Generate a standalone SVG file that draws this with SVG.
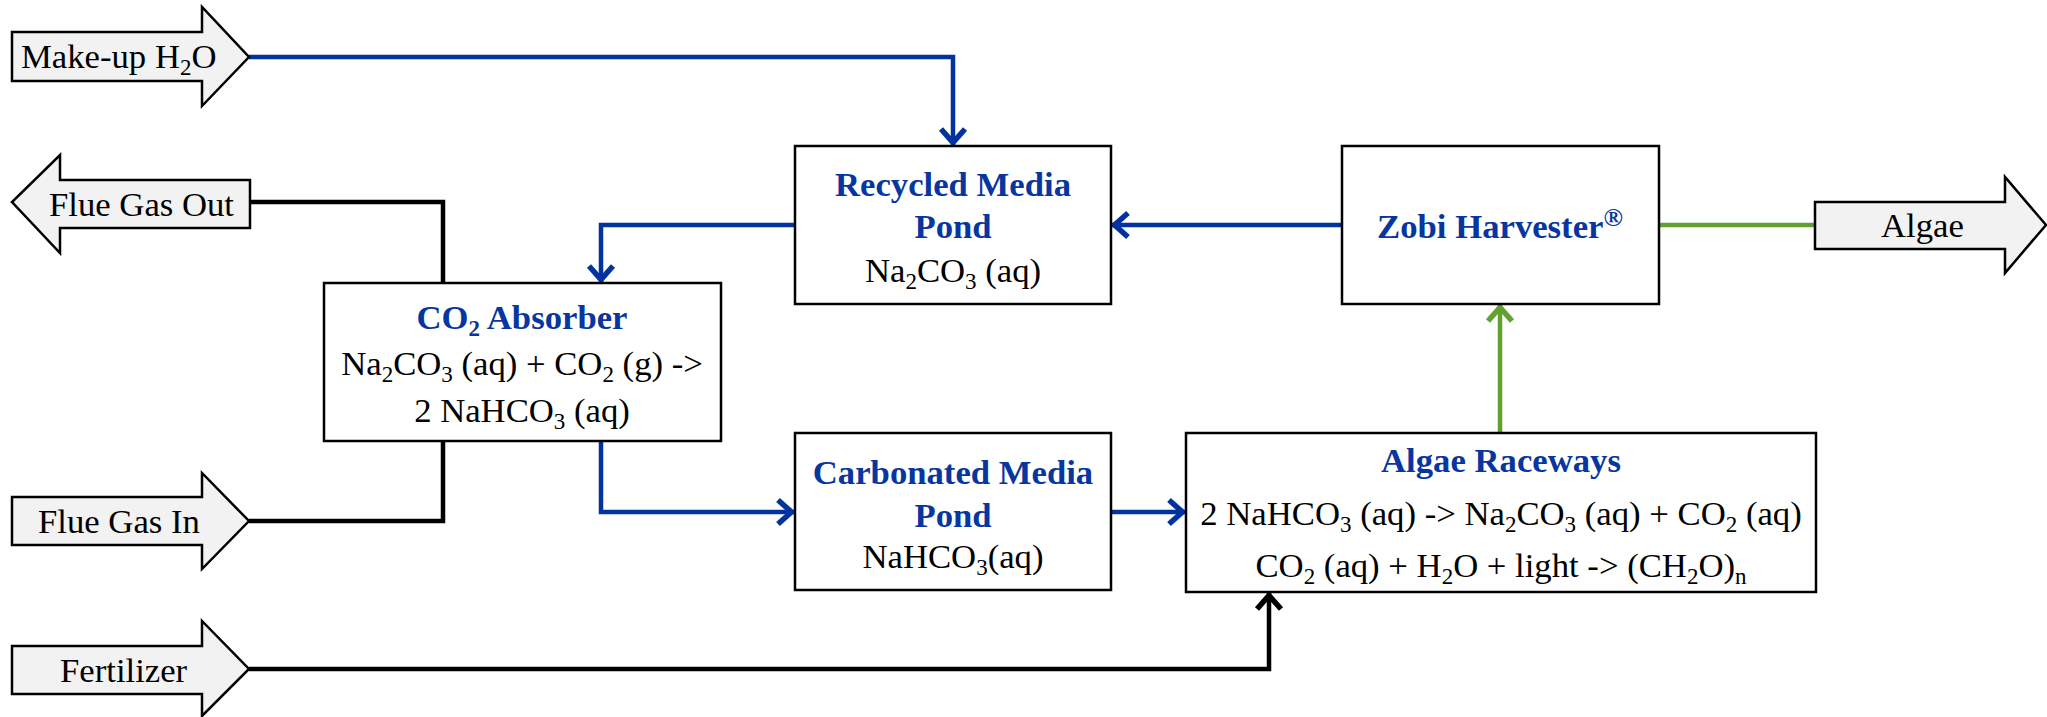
<svg xmlns="http://www.w3.org/2000/svg" width="2047" height="717" viewBox="0 0 2047 717">
<style>
text{font-family:"Liberation Serif","Times New Roman",serif;font-size:34.7px;fill:#000}
.t{font-weight:bold;fill:#0836a0}
.box{fill:#fff;stroke:#000;stroke-width:2.5}
.io{fill:#f2f2f2;stroke:#000;stroke-width:2.5;stroke-linejoin:miter}
.cb{fill:none;stroke:#0033a0;stroke-width:4.5}
.ck{fill:none;stroke:#000;stroke-width:4.5}
.cg{fill:none;stroke:#62a030;stroke-width:4.5}
</style>
<defs>
<marker id="mb" markerUnits="userSpaceOnUse" viewBox="-24 -16 28 32" markerWidth="28" markerHeight="32" refX="0" refY="0" orient="auto"><path d="M-17,-12 L-3.5,0 L-17,12" fill="none" stroke="#0033a0" stroke-width="5.5"/></marker>
<marker id="mk" markerUnits="userSpaceOnUse" viewBox="-24 -16 28 32" markerWidth="28" markerHeight="32" refX="0" refY="0" orient="auto"><path d="M-17,-12 L-3.5,0 L-17,12" fill="none" stroke="#000" stroke-width="5.5"/></marker>
<marker id="mg" markerUnits="userSpaceOnUse" viewBox="-24 -16 28 32" markerWidth="28" markerHeight="32" refX="0" refY="0" orient="auto"><path d="M-17,-12 L-3.5,0 L-17,12" fill="none" stroke="#62a030" stroke-width="5.5"/></marker>
</defs>
<g id="connectors">
<polyline class="cb" points="249,57 953,57 953,146" marker-end="url(#mb)"/>
<polyline class="cb" points="1342,225 1111,225" marker-end="url(#mb)"/>
<polyline class="cb" points="795,225 601,225 601,283" marker-end="url(#mb)"/>
<polyline class="cb" points="601,441 601,512 795,512" marker-end="url(#mb)"/>
<polyline class="cb" points="1111,512 1186,512" marker-end="url(#mb)"/>
<polyline class="cg" points="1500,433 1500,304" marker-end="url(#mg)"/>
<polyline class="cg" points="1659,225 1815,225"/>
<polyline class="ck" points="443,283 443,202 250,202"/>
<polyline class="ck" points="249,521 443,521 443,441"/>
<polyline class="ck" points="249,669 1269,669 1269,592" marker-end="url(#mk)"/>
</g>
<g id="makeup">
<polygon class="io" points="12,32 202,32 202,7 249,57 202,106 202,81 12,81"/>
<text x="21" y="68">Make-up H<tspan font-size="23" dy="7">2</tspan><tspan dy="-7">O</tspan></text>
</g>
<g id="flue-out">
<polygon class="io" points="250,180 60,180 60,155 12,202 60,253 60,228 250,228"/>
<text x="49" y="216">Flue Gas Out</text>
</g>
<g id="flue-in">
<polygon class="io" points="12,497 202,497 202,473 249,521 202,569 202,545 12,545"/>
<text x="38" y="533">Flue Gas In</text>
</g>
<g id="fertilizer">
<polygon class="io" points="12,646 202,646 202,621 249,669 202,716 202,694 12,694"/>
<text x="60" y="682">Fertilizer</text>
</g>
<g id="algae-out">
<polygon class="io" points="1815,202 2005,202 2005,177 2046,225 2005,273 2005,249 1815,249"/>
<text x="1881" y="237">Algae</text>
</g>
<g id="recycled">
<rect class="box" x="795" y="146" width="316" height="158"/>
<text class="t" x="953" y="196" text-anchor="middle">Recycled Media</text>
<text class="t" x="953" y="238" text-anchor="middle">Pond</text>
<text x="953" y="282" text-anchor="middle">Na<tspan font-size="23" dy="7">2</tspan><tspan dy="-7">CO</tspan><tspan font-size="23" dy="7">3</tspan><tspan dy="-7"> (aq)</tspan></text>
</g>
<g id="zobi">
<rect class="box" x="1342" y="146" width="317" height="158"/>
<text class="t" x="1500" y="238" text-anchor="middle">Zobi Harvester<tspan font-size="26" dy="-12">®</tspan></text>
</g>
<g id="absorber">
<rect class="box" x="324" y="283" width="397" height="158"/>
<text class="t" x="522" y="329" text-anchor="middle">CO<tspan font-size="23" dy="7">2</tspan><tspan dy="-7"> Absorber</tspan></text>
<text x="522" y="375" text-anchor="middle">Na<tspan font-size="23" dy="7">2</tspan><tspan dy="-7">CO</tspan><tspan font-size="23" dy="7">3</tspan><tspan dy="-7"> (aq) + CO</tspan><tspan font-size="23" dy="7">2</tspan><tspan dy="-7"> (g) -&gt;</tspan></text>
<text x="522" y="422" text-anchor="middle">2 NaHCO<tspan font-size="23" dy="7">3</tspan><tspan dy="-7"> (aq)</tspan></text>
</g>
<g id="carbonated">
<rect class="box" x="795" y="433" width="316" height="157"/>
<text class="t" x="953" y="484" text-anchor="middle">Carbonated Media</text>
<text class="t" x="953" y="527" text-anchor="middle">Pond</text>
<text x="953" y="568" text-anchor="middle">NaHCO<tspan font-size="23" dy="7">3</tspan><tspan dy="-7">(aq)</tspan></text>
</g>
<g id="raceways">
<rect class="box" x="1186" y="433" width="630" height="159"/>
<text class="t" x="1501" y="472" text-anchor="middle">Algae Raceways</text>
<text x="1501" y="525" text-anchor="middle">2 NaHCO<tspan font-size="23" dy="7">3</tspan><tspan dy="-7"> (aq) -&gt; Na</tspan><tspan font-size="23" dy="7">2</tspan><tspan dy="-7">CO</tspan><tspan font-size="23" dy="7">3</tspan><tspan dy="-7"> (aq) + CO</tspan><tspan font-size="23" dy="7">2</tspan><tspan dy="-7"> (aq)</tspan></text>
<text x="1501" y="577" text-anchor="middle">CO<tspan font-size="23" dy="7">2</tspan><tspan dy="-7"> (aq) + H</tspan><tspan font-size="23" dy="7">2</tspan><tspan dy="-7">O + light -&gt; (CH</tspan><tspan font-size="23" dy="7">2</tspan><tspan dy="-7">O)</tspan><tspan font-size="23" dy="7">n</tspan></text>
</g>
</svg>
